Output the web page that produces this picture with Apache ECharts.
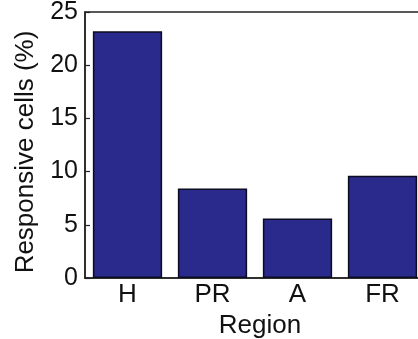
<!DOCTYPE html>
<html>
<head>
<meta charset="utf-8">
<script src="https://cdn.jsdelivr.net/npm/echarts@6/dist/echarts.min.js"></script>
<style>html,body{margin:0;padding:0;background:#fff;}#c{width:418px;height:339px;}</style>
</head>
<body>
<div id="c"></div>
<script>
var categories = ['H', 'PR', 'A', 'FR'];
var responsive = [23.2, 8.4, 5.6, 9.6];
var yTicks = [0, 5, 10, 15, 20, 25];

var chart = echarts.init(document.getElementById('c'), null, {renderer: 'canvas'});
var font = '"Liberation Sans", Arial, Helvetica, sans-serif';
chart.setOption({
  animation: false,
  backgroundColor: '#fff',
  grid: {left: 85, top: 12, width: 340, height: 266, outerBoundsMode: 'none', containLabel: false, show: true, borderColor: '#222', borderWidth: 1.5, backgroundColor: 'transparent'},
  xAxis: {
    type: 'category',
    data: categories,
    name: 'Region',
    nameLocation: 'middle',
    nameGap: 33,
    nameTextStyle: {fontFamily: font, fontSize: 26, color: '#111', padding: [0, 0, 0, 10]},
    axisLine: {lineStyle: {color: '#222', width: 1.5}},
    axisTick: {show: false},
    axisLabel: {fontFamily: font, fontSize: 26, color: '#111', margin: 4}
  },
  yAxis: {
    type: 'value',
    min: yTicks[0],
    max: yTicks[yTicks.length - 1],
    interval: 5,
    name: 'Responsive cells (%)',
    nameLocation: 'middle',
    nameGap: 45,
    nameTextStyle: {fontFamily: font, fontSize: 26, color: '#111', padding: [0, 14, 0, 0]},
    axisLine: {show: true, lineStyle: {color: '#222', width: 1.5}},
    axisTick: {show: true, inside: true, length: 5, lineStyle: {color: '#222', width: 1.2}},
    splitLine: {show: false},
    axisLabel: {fontFamily: font, fontSize: 25, color: '#111', margin: 7}
  },
  series: [{
    type: 'bar',
    data: responsive,
    barCategoryGap: '18.5%',
    itemStyle: {color: '#2a2a8c', borderColor: '#0c0c20', borderWidth: 1.5}
  }]
});
</script>
</body>
</html>
